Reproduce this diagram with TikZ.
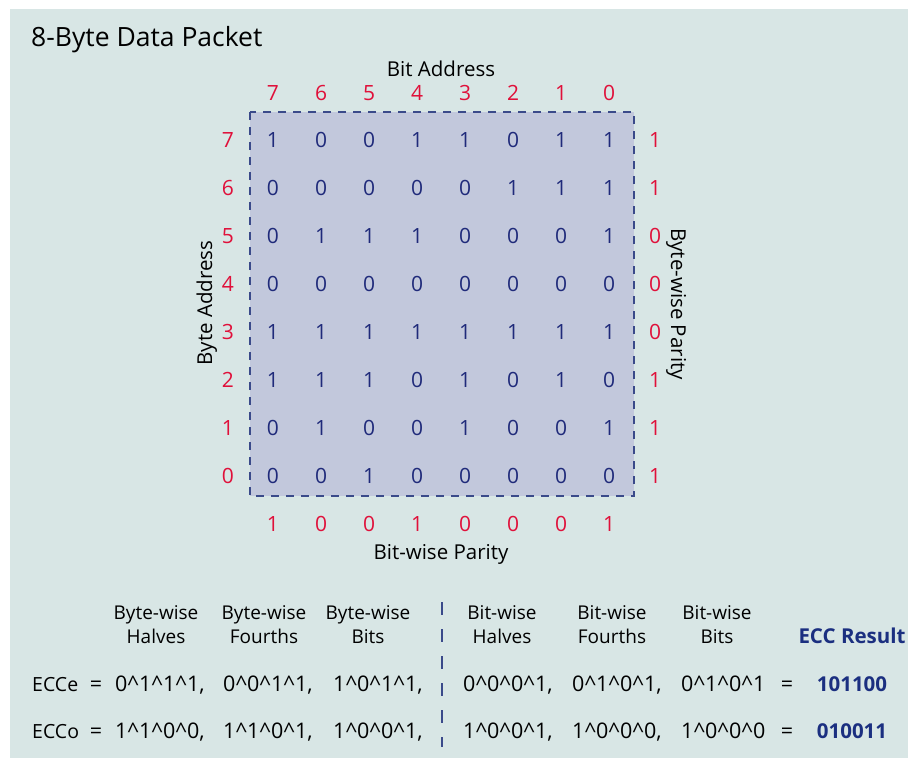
\documentclass[tikz,border=0pt]{standalone}
\usepackage{fontspec}
\setmainfont{Open Sans}

\definecolor{panelbg}{RGB}{216,230,229}
\definecolor{gridfill}{RGB}{194,200,220}
\definecolor{gridline}{RGB}{58,74,138}
\definecolor{bitcol}{RGB}{31,42,122}
\definecolor{addrcol}{RGB}{224,16,58}
\definecolor{resultcol}{RGB}{27,47,128}

\tikzset{
  bitnum/.style={text=bitcol, inner sep=0pt, font=\fontsize{21}{21}\selectfont},
  addrnum/.style={text=addrcol, inner sep=0pt, font=\fontsize{21}{21}\selectfont},
  axislabel/.style={anchor=base, inner sep=0pt, font=\fontsize{20.5}{20.5}\selectfont},
  colhead/.style={anchor=base, inner sep=0pt, align=center, font=\fontsize{19}{24}\selectfont},
  eqtext/.style={anchor=base west, inner sep=0pt, font=\fontsize{21.5}{21.5}\selectfont},
  result/.style={anchor=base, inner sep=0pt, text=resultcol, font=\bfseries\fontsize{20.5}{20.5}\selectfont},
}

\begin{document}
\begin{tikzpicture}[x=1pt, y=-1pt]
    % Panel
    \useasboundingbox (0,0) rectangle (908,758);
    \fill[panelbg] (10,9) rectangle (908,758);
    \node[anchor=base west, inner sep=0pt, font=\fontsize{26.5}{26.5}\selectfont] (title) at (31,46) {8-Byte Data Packet};

    % Data grid
    \draw[fill=gridfill, draw=gridline, line width=1.6pt, dash pattern=on 8pt off 7pt] (250,112) rectangle (634,496);
    \node[axislabel] (bitaddr) at (441,76) {Bit Address};
    \node[axislabel] (bitparity) at (441,559) {Bit-wise Parity};
    \node[axislabel, rotate=90] (byteaddr) at (212,303) {Byte Address};
    \node[axislabel, rotate=-90] (byteparity) at (671,304) {Byte-wise Parity};

    \foreach \row [count=\r] in {{1,0,0,1,1,0,1,1},{0,0,0,0,0,1,1,1},{0,1,1,1,0,0,0,1},{0,0,0,0,0,0,0,0},
                                 {1,1,1,1,1,1,1,1},{1,1,1,0,1,0,1,0},{0,1,0,0,1,0,0,1},{0,0,1,0,0,0,0,0}} {
      \pgfmathtruncatemacro{\addr}{8-\r}
      \node[addrnum] (rowaddr-\r) at (228,{140+48*(\r-1)}) {\addr};
      \foreach \b [count=\c] in \row {
        \node[bitnum] (bit-\r-\c) at ({273+48*(\c-1)},{140+48*(\r-1)}) {\b};
      }
    }
    \foreach \p [count=\r] in {1,1,0,0,0,1,1,1} {
      \node[addrnum] (bytepar-\r) at (655,{140+48*(\r-1)}) {\p};
    }
    \foreach \p [count=\c] in {1,0,0,1,0,0,0,1} {
      \pgfmathtruncatemacro{\addr}{8-\c}
      \node[addrnum] (coladdr-\c) at ({273+48*(\c-1)},93) {\addr};
      \node[addrnum] (bitpar-\c) at ({273+48*(\c-1)},524) {\p};
    }

    % ECC calculation
    \node[colhead] (h-byte-halves) at (156,643) {Byte-wise\\Halves};
    \node[colhead] (h-byte-fourths) at (264,643) {Byte-wise\\Fourths};
    \node[colhead] (h-byte-bits) at (368,643) {Byte-wise\\Bits};
    \node[colhead] (h-bit-halves) at (502,643) {Bit-wise\\Halves};
    \node[colhead] (h-bit-fourths) at (612,643) {Bit-wise\\Fourths};
    \node[colhead] (h-bit-bits) at (717,643) {Bit-wise\\Bits};
    \node[result] (h-result) at (852,643) {ECC Result};

    \coordinate (divtop) at (442,602);
    \coordinate (divbot) at (442,747);
    \draw[gridline, line width=1.6pt, dash pattern=on 13pt off 14pt] (divtop) -- (divbot);

    \foreach \name/\y/\res in {e/691/101100, o/738/010011} {
      \node[eqtext, font=\fontsize{19.5}{19.5}\selectfont] (ecc\name-lbl) at (32,\y) {ECC\name};
      \node[eqtext, anchor=base] (ecc\name-eq1) at (96,\y) {=};
      \node[eqtext, anchor=base] (ecc\name-eq2) at (787,\y) {=};
      \node[result] (ecc\name-res) at (852,\y) {\res};
    }
    \node[eqtext] (ecce-1) at (115,691) {0\string^1\string^1\string^1,};
    \node[eqtext] (ecce-2) at (223,691) {0\string^0\string^1\string^1,};
    \node[eqtext] (ecce-3) at (333,691) {1\string^0\string^1\string^1,};
    \node[eqtext] (ecce-4) at (463,691) {0\string^0\string^0\string^1,};
    \node[eqtext] (ecce-5) at (572,691) {0\string^1\string^0\string^1,};
    \node[eqtext] (ecce-6) at (681,691) {0\string^1\string^0\string^1};
    \node[eqtext] (ecco-1) at (115,738) {1\string^1\string^0\string^0,};
    \node[eqtext] (ecco-2) at (223,738) {1\string^1\string^0\string^1,};
    \node[eqtext] (ecco-3) at (333,738) {1\string^0\string^0\string^1,};
    \node[eqtext] (ecco-4) at (463,738) {1\string^0\string^0\string^1,};
    \node[eqtext] (ecco-5) at (572,738) {1\string^0\string^0\string^0,};
    \node[eqtext] (ecco-6) at (681,738) {1\string^0\string^0\string^0};
\end{tikzpicture}
\end{document}
